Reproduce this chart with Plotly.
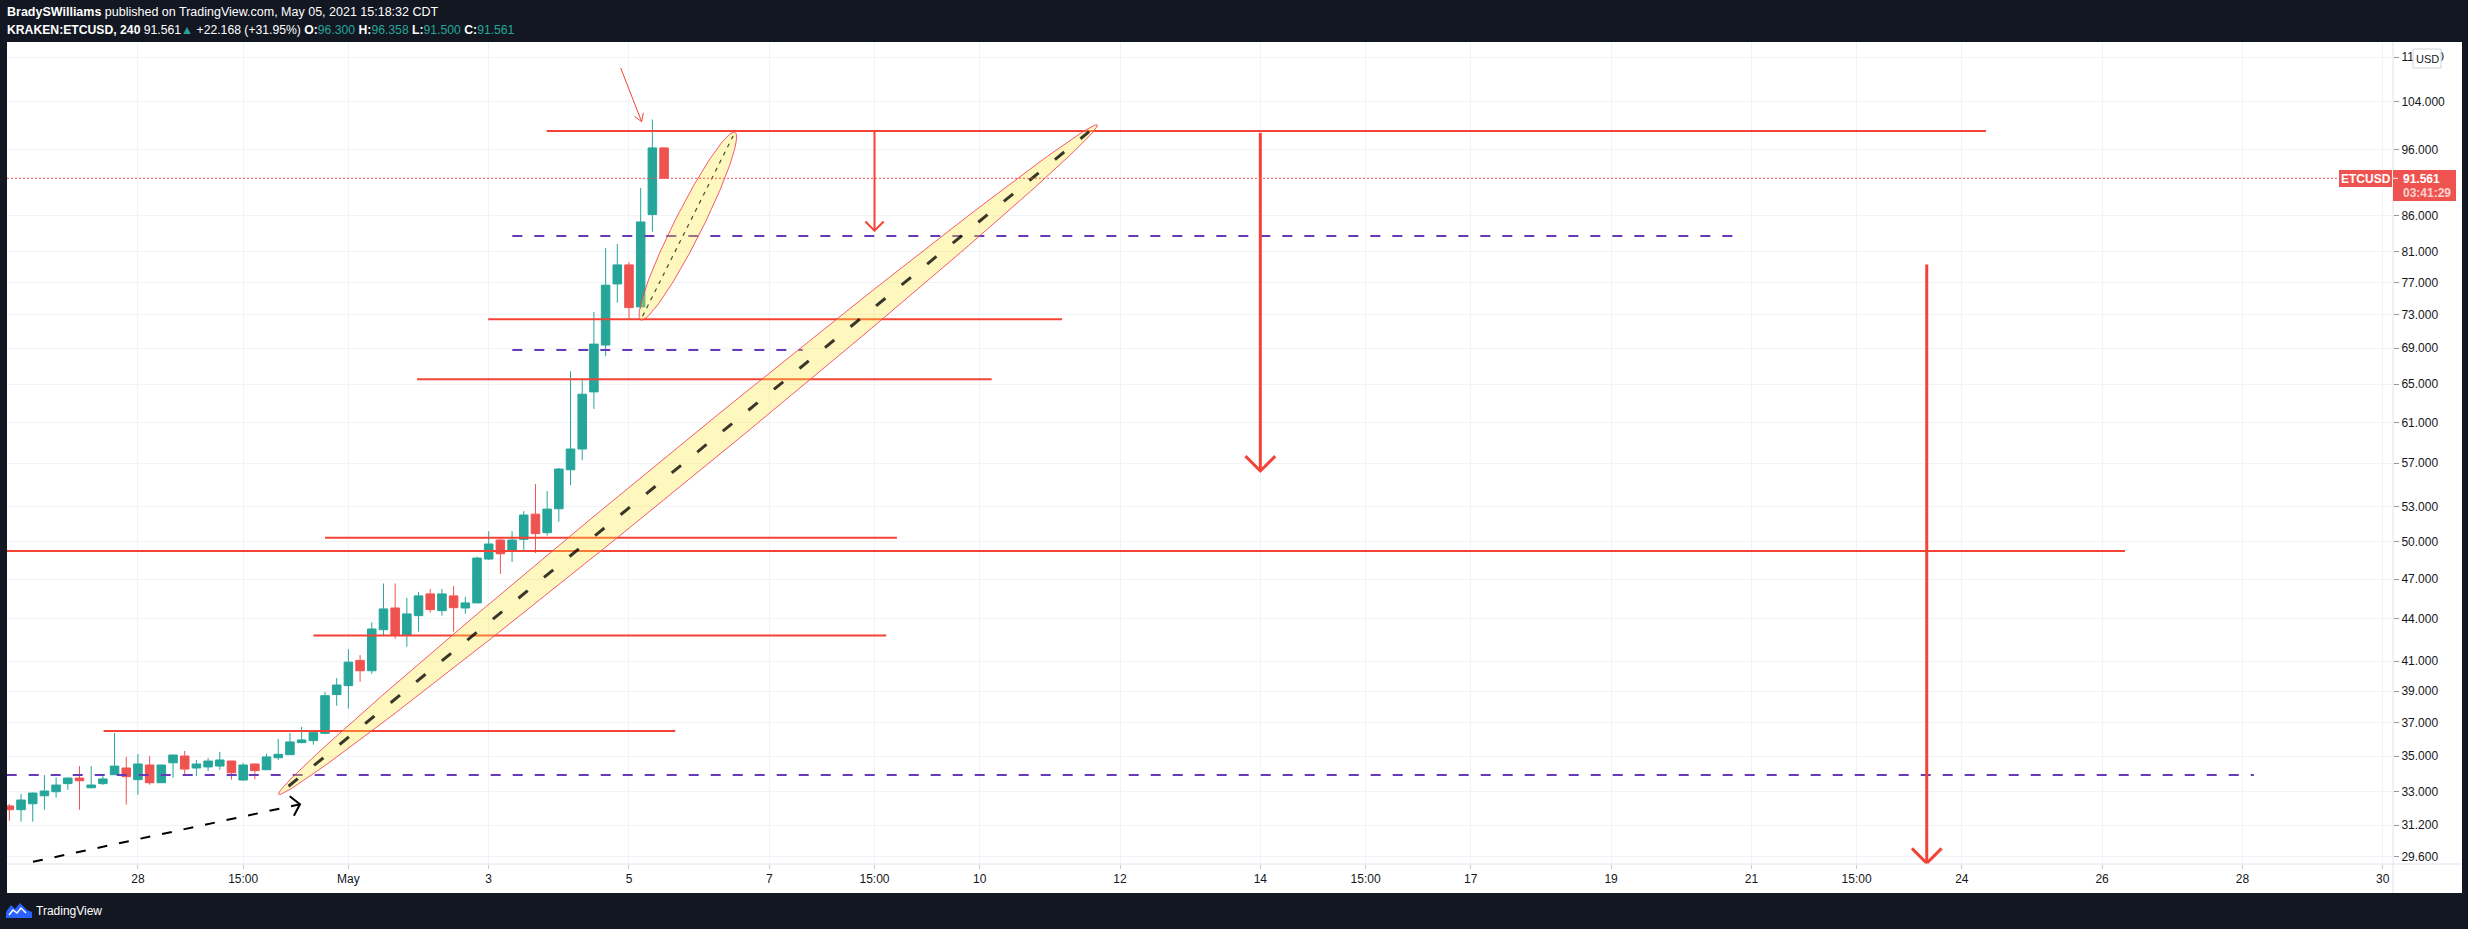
import numpy as np
import pandas as pd
import plotly.graph_objects as go

# ---------------- data ----------------
bar_start = "2021-04-26 07:00"   # first visible 4h bar (CDT)
bar_count = 57
opens = [32.22, 32.02, 32.34, 32.77, 32.99, 33.44, 33.75, 33.21, 33.44, 33.94,
         34.32, 33.66, 34.49, 33.49, 34.62, 35.01, 34.32, 34.38, 34.43, 34.72,
         33.64, 34.55, 34.22, 34.91, 35.09, 35.80, 35.92, 36.36, 38.78, 39.36,
         41.05, 40.35, 43.20, 44.79, 42.82, 44.22, 45.85, 44.59, 45.70, 44.79,
         45.17, 48.59, 50.15, 49.33, 50.21, 52.36, 50.77, 52.83, 56.37, 58.35,
         64.17, 69.37, 76.80, 79.27, 73.92, 86.19, 96.300]
highs = [32.33, 32.87, 32.95, 33.92, 33.79, 33.79, 34.43, 34.43, 33.87, 36.38,
         34.96, 35.13, 35.01, 34.50, 35.07, 35.31, 34.78, 34.90, 35.25, 34.73,
         34.61, 34.56, 35.15, 36.02, 36.38, 36.75, 36.41, 38.95, 39.86, 41.82,
         41.41, 43.73, 46.65, 46.65, 45.55, 46.00, 46.23, 46.23, 46.46, 45.62,
         48.78, 50.90, 50.26, 50.90, 52.62, 55.04, 54.40, 56.53, 66.41, 65.44,
         73.30, 81.51, 82.05, 79.62, 90.09, 100.97, 96.358]
lows = [31.44, 31.39, 31.39, 32.02, 32.67, 33.10, 32.02, 33.18, 33.36, 33.94,
        32.29, 32.83, 33.38, 33.48, 33.77, 33.98, 33.87, 34.15, 34.21, 33.66,
        33.60, 33.68, 34.21, 34.78, 35.08, 35.76, 35.68, 36.30, 38.07, 37.88,
        39.62, 40.15, 42.73, 42.56, 42.00, 43.06, 44.44, 44.22, 43.06, 44.35,
        45.16, 48.51, 47.40, 48.35, 49.33, 49.08, 50.52, 51.71, 54.95, 57.28,
        62.37, 68.10, 74.45, 72.53, 73.67, 83.77, 91.500]
closes = [32.02, 32.54, 32.92, 33.03, 33.36, 33.75, 33.60, 33.36, 33.70, 34.43,
          33.83, 34.55, 33.49, 34.49, 35.07, 34.26, 34.55, 34.72, 34.78, 34.05,
          34.49, 34.17, 34.96, 35.11, 35.84, 35.96, 36.40, 38.71, 39.40, 40.93,
          40.35, 43.25, 44.72, 42.82, 44.35, 45.70, 44.67, 45.85, 44.81, 45.17,
          48.67, 49.82, 49.02, 50.15, 52.28, 50.69, 52.80, 56.44, 58.35, 63.92,
          69.48, 76.64, 79.27, 73.83, 85.14, 96.30, 91.561]

price_ticks = [112, 104, 96, 86, 81, 77, 73, 69, 65, 61, 57, 53, 50, 47, 44,
               41, 39, 37, 35, 33, 31.2, 29.6]
price_tick_text = ["112.000", "104.000", "96.000", "86.000", "81.000", "77.000",
                   "73.000", "69.000", "65.000", "61.000", "57.000", "53.000",
                   "50.000", "47.000", "44.000", "41.000", "39.000", "37.000",
                   "35.000", "33.000", "31.200", "29.600"]
date_ticks = ["2021-04-28 03:00", "2021-04-29 15:00", "2021-05-01 03:00",
              "2021-05-03 03:00", "2021-05-05 03:00", "2021-05-07 03:00",
              "2021-05-08 15:00", "2021-05-10 03:00", "2021-05-12 03:00",
              "2021-05-14 03:00", "2021-05-15 15:00", "2021-05-17 03:00",
              "2021-05-19 03:00", "2021-05-21 03:00", "2021-05-22 15:00",
              "2021-05-24 03:00", "2021-05-26 03:00", "2021-05-28 03:00",
              "2021-05-30 03:00"]
date_tick_text = ["28", "15:00", "May", "3", "5", "7", "15:00", "10", "12", "14",
                  "15:00", "17", "19", "21", "15:00", "24", "26", "28", "30"]
last_price = 91.561

# user drawings (data coordinates)
red_hlines_start = ["2021-05-03 22:50", "2021-05-03 02:50", "2021-05-02 02:30",
                    "2021-04-30 19:00", "2021-04-25 00:00", "2021-04-30 15:00",
                    "2021-04-27 15:15"]
red_hlines_end = ["2021-05-24 11:15", "2021-05-11 07:10", "2021-05-10 07:05",
                  "2021-05-08 22:40", "2021-05-26 10:50", "2021-05-08 19:00",
                  "2021-05-05 18:50"]
red_hlines_price = [99.03, 72.41, 65.53, 50.35, 49.25, 42.79, 36.50]

purple_start = ["2021-05-03 11:05", "2021-05-03 11:05", "2021-04-25 00:00"]
purple_end = ["2021-05-20 20:45", "2021-05-07 14:30", "2021-05-28 06:55"]
purple_price = [83.17, 68.81, 33.92]

big_ellipse = [("2021-04-30 03:09", 32.85), ("2021-05-11 19:13", 100.05)]
small_ellipse = [("2021-05-05 07:00", 72.33), ("2021-05-06 15:16", 98.84)]

down_arrow_time = ["2021-05-08 15:00", "2021-05-14 03:00", "2021-05-23 15:00"]
down_arrow_top = [99.03, 98.77, 79.33]
down_arrow_tip = [83.91, 56.26, 29.29]

thin_arrow = [("2021-05-05 00:10", 110.0), ("2021-05-05 07:20", 100.6)]
black_arrow = [("2021-04-26 15:05", 29.36), ("2021-04-30 10:26", 32.31)]

# ---------------- geometry ----------------
W, H = 2468, 929
ML, MR, MT, MB = 7, 75, 42, 65
PW, PH = W - ML - MR, H - MT - MB
X0, X1 = pd.Timestamp("2021-04-26 06:12"), pd.Timestamp("2021-05-30 06:31")
LOG_BOT, LOG_TOP = 1.466178, 2.060169

RED = "#f44336"
TEAL = "#26a69a"
CRED = "#ef5350"
PURPLE = "#673ab7"
FONT = "Liberation Sans"


def to_px(t, p):
    t = pd.Timestamp(t)
    fx = (t - X0) / (X1 - X0)
    fy = (LOG_TOP - np.log10(p)) / (LOG_TOP - LOG_BOT)
    return ML + fx * PW, MT + fy * PH


def from_px(px, py):
    t = X0 + (X1 - X0) * ((px - ML) / PW)
    lg = LOG_TOP - (py - MT) / PH * (LOG_TOP - LOG_BOT)
    return t, 10 ** lg


def pxx(px):
    return (px - ML) / PW


def pyy(py):
    return (MT + PH - py) / PH


fig = go.Figure()

times = pd.date_range(bar_start, periods=bar_count, freq="4h")
fig.add_trace(go.Candlestick(
    x=times, open=opens, high=highs, low=lows, close=closes,
    increasing=dict(line=dict(color=TEAL, width=1), fillcolor=TEAL),
    decreasing=dict(line=dict(color=CRED, width=1), fillcolor=CRED),
    hoverinfo="skip", showlegend=False))


def add_line(xs, ys, color, width, dash="solid", fill=None, fillcolor=None):
    fig.add_trace(go.Scatter(
        x=[pd.Timestamp(v) for v in xs], y=ys, mode="lines",
        line=dict(color=color, width=width, dash=dash),
        fill=fill, fillcolor=fillcolor,
        hoverinfo="skip", showlegend=False))


def arrow_head(tip, tail, length, ang_deg):
    tx, ty = to_px(*tip)
    sx, sy = to_px(*tail)
    d = np.array([sx - tx, sy - ty])
    d = d / np.hypot(*d)
    xs, ys = [], []
    for sgn in (1, -1):
        a = np.radians(ang_deg) * sgn
        r = np.array([d[0] * np.cos(a) - d[1] * np.sin(a),
                      d[0] * np.sin(a) + d[1] * np.cos(a)])
        t, p = from_px(tx + r[0] * length, ty + r[1] * length)
        xs.append(t)
        ys.append(p)
    return [xs[0], tip[0], xs[1]], [ys[0], tip[1], ys[1]]


def ellipse_pts(p1, p2, b, n=240):
    x1, y1 = to_px(*p1)
    x2, y2 = to_px(*p2)
    cx, cy = (x1 + x2) / 2, (y1 + y2) / 2
    a = np.hypot(x2 - x1, y2 - y1) / 2
    phi = np.arctan2(y2 - y1, x2 - x1)
    th = np.linspace(0, 2 * np.pi, n)
    u, v = a * np.cos(th), b * np.sin(th)
    px = cx + u * np.cos(phi) - v * np.sin(phi)
    py = cy + u * np.sin(phi) + v * np.cos(phi)
    pts = [from_px(X, Y) for X, Y in zip(px, py)]
    return [q[0] for q in pts], [q[1] for q in pts]


def axis_seg(p1, p2, f0, f1):
    x1, y1 = to_px(*p1)
    x2, y2 = to_px(*p2)
    a = from_px(x1 + (x2 - x1) * f0, y1 + (y2 - y1) * f0)
    b = from_px(x1 + (x2 - x1) * f1, y1 + (y2 - y1) * f1)
    return [a[0], b[0]], [a[1], b[1]]


# horizontal red lines
for s, e, p in zip(red_hlines_start, red_hlines_end, red_hlines_price):
    add_line([s, e], [p, p], RED, 2)

# purple dashed lines
for s, e, p in zip(purple_start, purple_end, purple_price):
    add_line([s, e], [p, p], PURPLE, 2, dash="10px,12px")

# ellipses
ex, ey = ellipse_pts(big_ellipse[0], big_ellipse[1], 16)
add_line(ex, ey, "rgba(240,60,90,0.85)", 1, fill="toself",
         fillcolor="rgba(255,235,59,0.33)")
cx_, cy_ = axis_seg(big_ellipse[0], big_ellipse[1], 0.012, 0.99)
add_line(cx_, cy_, "rgba(0,0,0,0.78)", 3, dash="12px,21px")

ex, ey = ellipse_pts(small_ellipse[0], small_ellipse[1], 14)
add_line(ex, ey, "rgba(240,60,90,0.85)", 1, fill="toself",
         fillcolor="rgba(255,235,59,0.33)")
cx_, cy_ = axis_seg(small_ellipse[0], small_ellipse[1], 0.02, 0.98)
add_line(cx_, cy_, "rgba(0,0,0,0.7)", 1.2, dash="4px,5px")

# red down arrows
widths = [2, 3, 3]
heads = [13, 21, 21]
for t, top, tip, w, hl in zip(down_arrow_time, down_arrow_top, down_arrow_tip,
                              widths, heads):
    add_line([t, t], [top, tip], RED, w)
    hx, hy = arrow_head((t, tip), (t, top), hl, 45)
    add_line(hx, hy, RED, w)

# thin arrow to the top
add_line([thin_arrow[0][0], thin_arrow[1][0]], [thin_arrow[0][1], thin_arrow[1][1]], RED, 1)
hx, hy = arrow_head(thin_arrow[1], thin_arrow[0], 9, 32)
add_line(hx, hy, RED, 1)

# black dashed arrow
add_line([black_arrow[0][0], black_arrow[1][0]], [black_arrow[0][1], black_arrow[1][1]],
         "#000000", 2, dash="10px,12px")
hx, hy = arrow_head(black_arrow[1], black_arrow[0], 13, 50)
add_line(hx, hy, "#000000", 2)

# current price dotted line
add_line([X0, X1], [last_price, last_price], CRED, 1, dash="2px,2px")

axis_font = dict(family=FONT, size=12, color="#131722")
fig.update_layout(
    width=W, height=H,
    margin=dict(l=ML, r=MR, t=MT, b=MB, pad=0),
    paper_bgcolor="#131722", plot_bgcolor="#ffffff",
    showlegend=False, hovermode=False,
    boxgap=0.27, boxgroupgap=0.0,
    xaxis=dict(type="date", range=[X0, X1], tickmode="array",
               tickvals=[pd.Timestamp(v) for v in date_ticks], ticktext=date_tick_text,
               showgrid=True, gridcolor="#f0f3fa", gridwidth=1, showline=False,
               zeroline=False, ticks="outside", ticklen=4, tickcolor="#c9ccd4",
               tickfont=axis_font, rangeslider=dict(visible=False),
               automargin=False, fixedrange=True),
    yaxis=dict(type="log", range=[LOG_BOT, LOG_TOP], side="right", tickmode="array",
               tickvals=price_ticks, ticktext=price_tick_text,
               showgrid=True, gridcolor="#f0f3fa", gridwidth=1, showline=False,
               zeroline=False, ticks="outside", ticklen=5, tickcolor="#9598a1",
               tickfont=axis_font, automargin=False, fixedrange=True),
)

shapes = [
    # white chart panel incl. axes area
    dict(type="rect", xref="paper", yref="paper", layer="below",
         x0=pxx(7), x1=pxx(2462), y0=pyy(893), y1=pyy(42),
         fillcolor="#ffffff", line=dict(width=0)),
    # axis separators
    dict(type="line", xref="paper", yref="paper", x0=pxx(2393), x1=pxx(2393),
         y0=pyy(893), y1=pyy(42), line=dict(color="#e0e3eb", width=1)),
    dict(type="line", xref="paper", yref="paper", x0=pxx(7), x1=pxx(2462),
         y0=pyy(864), y1=pyy(864), line=dict(color="#e0e3eb", width=1)),
    # price labels
    dict(type="rect", xref="paper", yref="paper", x0=pxx(2339), x1=pxx(2392),
         y0=pyy(187), y1=pyy(170), fillcolor=CRED, line=dict(width=0)),
    dict(type="rect", xref="paper", yref="paper", x0=pxx(2393), x1=pxx(2456),
         y0=pyy(201), y1=pyy(170), fillcolor=CRED, line=dict(width=0)),
    dict(type="line", xref="paper", yref="paper", x0=pxx(2393), x1=pxx(2398),
         y0=pyy(178.3), y1=pyy(178.3), line=dict(color="#ffffff", width=1)),
    # USD badge
    dict(type="rect", xref="paper", yref="paper", x0=pxx(2413), x1=pxx(2441),
         y0=pyy(68), y1=pyy(49), fillcolor="#ffffff",
         line=dict(color="#d1d4dc", width=1)),
    # TradingView logo icon
    dict(type="path", xref="paper", yref="paper",
         path="M {} {} L {} {} L {} {} L {} {} L {} {} L {} {} L {} {} L {} {} Z".format(
             pxx(6), pyy(918), pxx(6), pyy(912), pxx(11), pyy(905), pxx(15), pyy(909),
             pxx(20), pyy(903), pxx(27), pyy(910), pxx(32), pyy(912), pxx(32), pyy(918)),
         fillcolor="#2962ff", line=dict(width=0)),
    dict(type="path", xref="paper", yref="paper",
         path="M {} {} L {} {} L {} {} L {} {} L {} {}".format(
             pxx(9), pyy(915), pxx(13), pyy(910), pxx(17), pyy(913),
             pxx(21), pyy(908), pxx(26), pyy(913)),
         line=dict(color="#ffffff", width=1.5)),
]
fig.update_layout(shapes=shapes)

G = TEAL
ann = [
    dict(x=pxx(5), y=pyy(12.5), xanchor="left", yanchor="middle",
         text="<b>BradySWilliams</b> published on TradingView.com, May 05, 2021 15:18:32 CDT",
         font=dict(family=FONT, size=12.5, color="#ffffff")),
    dict(x=pxx(5), y=pyy(30), xanchor="left", yanchor="middle",
         text=("<b>KRAKEN:ETCUSD, 240</b> 91.561<span style='color:%s'>▲</span> +22.168 (+31.95%%) "
               "<b>O:</b><span style='color:%s'>96.300</span> <b>H:</b><span style='color:%s'>96.358</span> "
               "<b>L:</b><span style='color:%s'>91.500</span> <b>C:</b><span style='color:%s'>91.561</span>")
         % (G, G, G, G, G),
         font=dict(family=FONT, size=12.2, color="#ffffff")),
    dict(x=pxx(2365.5), y=pyy(178.5), xanchor="center", yanchor="middle",
         text="<b>ETCUSD</b>", font=dict(family=FONT, size=12, color="#ffffff")),
    dict(x=pxx(2401), y=pyy(178.5), xanchor="left", yanchor="middle",
         text="<b>91.561</b>", font=dict(family=FONT, size=12, color="#ffffff")),
    dict(x=pxx(2401), y=pyy(193.5), xanchor="left", yanchor="middle",
         text="<b>03:41:29</b>", font=dict(family=FONT, size=12, color="rgba(255,255,255,0.75)")),
    dict(x=pxx(2427), y=pyy(58.5), xanchor="center", yanchor="middle",
         text="USD", font=dict(family=FONT, size=11, color="#131722")),
    dict(x=pxx(34), y=pyy(911), xanchor="left", yanchor="middle",
         text="TradingView", font=dict(family=FONT, size=12, color="#ffffff")),
]
for a in ann:
    a.update(xref="paper", yref="paper", showarrow=False)
fig.update_layout(annotations=ann)

fig.write_html(
    "out.html",
    config={"displayModeBar": False},
    post_script="document.body.style.margin='0';document.body.style.background='#131722';",
)
